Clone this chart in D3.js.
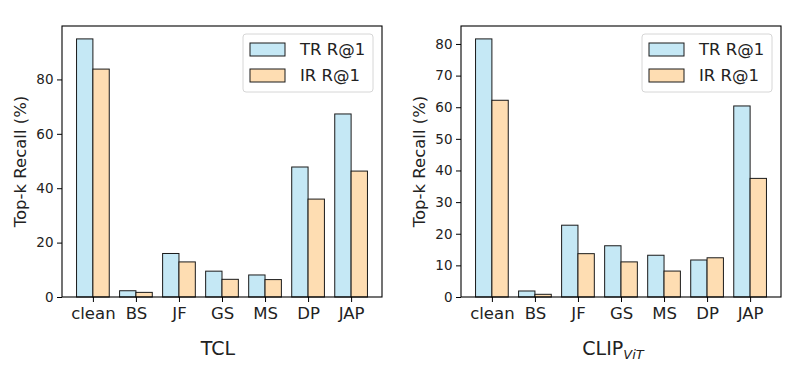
<!DOCTYPE html>
<html>
<head>
<meta charset="utf-8">
<script src="https://cdn.jsdelivr.net/npm/d3@7/dist/d3.min.js"></script>
<style>
  html, body { margin: 0; padding: 0; background: #fff; }
  svg { display: block; }
  text { font-family: "DejaVu Sans", sans-serif; fill: #222; }
</style>
</head>
<body>
<svg id="chart" width="811" height="387"></svg>
<script>
// ---- data ----
const categories = ["clean", "BS", "JF", "GS", "MS", "DP", "JAP"];
const seriesNames = ["TR R@1", "IR R@1"];
const tclTR = [94.9, 2.3, 16.0, 9.5, 8.1, 47.8, 67.3];
const tclIR = [83.8, 1.7, 12.9, 6.5, 6.4, 36.0, 46.3];
const clipTR = [81.6, 1.9, 22.7, 16.2, 13.2, 11.7, 60.4];
const clipIR = [62.2, 0.85, 13.7, 11.1, 8.2, 12.4, 37.5];
const tclTicks = [0, 20, 40, 60, 80];
const clipTicks = [0, 10, 20, 30, 40, 50, 60, 70, 80];
const yLabel = "Top-k Recall (%)";

const colors = ["#C5E8F5", "#FEDDB2"];
const edge = "#1a1a1a";

const svg = d3.select("#chart");

function panel(opts) {
  const { left, top, width, height, tr, ir, ticks, title, sub } = opts;
  const g = svg.append("g").attr("transform", `translate(${left},${top})`);
  const bw = 0.38;
  const n = categories.length;
  const lo = -bw, hi = (n - 1) + bw;
  const pad = (hi - lo) * 0.05;
  const x = d3.scaleLinear().domain([lo - pad, hi + pad]).range([0, width]);
  const ymax = d3.max(tr.concat(ir)) * 1.05;
  const y = d3.scaleLinear().domain([0, ymax]).range([height, 0]);

  const series = [tr, ir];
  series.forEach((vals, si) => {
    g.append("g").selectAll("rect").data(vals).join("rect")
      .attr("x", (d, i) => x(i - bw + si * bw))
      .attr("width", x(bw) - x(0))
      .attr("y", d => y(d))
      .attr("height", d => y(0) - y(d))
      .attr("fill", colors[si])
      .attr("stroke", edge)
      .attr("stroke-width", 1);
  });

  // frame
  g.append("rect").attr("x", 0).attr("y", 0).attr("width", width).attr("height", height)
    .attr("fill", "none").attr("stroke", "#000").attr("stroke-width", 1.1);

  // y axis
  const ya = d3.axisLeft(y).tickValues(ticks).tickSize(5).tickPadding(3.5).tickFormat(d3.format("d"));
  const yg = g.append("g").call(ya);
  yg.select(".domain").remove();
  yg.selectAll("text").style("font-size", "13.5px").attr("fill", "#333");
  yg.selectAll("line").attr("stroke", "#000");

  // x axis
  const xa = d3.axisBottom(x).tickValues(d3.range(n)).tickSize(5).tickPadding(5)
    .tickFormat(i => categories[i]);
  const xg = g.append("g").attr("transform", `translate(0,${height})`).call(xa);
  xg.select(".domain").remove();
  xg.selectAll("text").style("font-size", "16.5px").attr("fill", "#333");
  xg.selectAll("line").attr("stroke", "#000");

  // y label
  g.append("text")
    .attr("transform", `translate(${opts.ylabX},${height / 2}) rotate(-90)`)
    .attr("text-anchor", "middle")
    .style("font-size", "16.5px").attr("fill", "#333")
    .text(yLabel);

  // title / xlabel
  const t = g.append("text")
    .attr("x", width / 2 + opts.titleDx).attr("y", opts.titleY)
    .attr("text-anchor", "middle")
    .style("font-size", "19px").attr("fill", "#222");
  t.append("tspan").text(title);
  if (sub) {
    t.append("tspan").attr("dy", 4).style("font-size", "13px").style("font-style", "italic").text(sub);
  }

  // legend
  const lg = g.append("g").attr("transform", `translate(${width - 139},${8})`);
  lg.append("rect").attr("x", 0).attr("y", 0).attr("width", 130).attr("height", 58)
    .attr("rx", 3).attr("fill", "#fff").attr("fill-opacity", 0.8)
    .attr("stroke", "#d6d6d6").attr("stroke-width", 1);
  seriesNames.forEach((s, i) => {
    lg.append("rect").attr("x", 7).attr("y", 9 + i * 26).attr("width", 35).attr("height", 13)
      .attr("fill", colors[i]).attr("stroke", edge).attr("stroke-width", 1);
    lg.append("text").attr("x", 57).attr("y", 15.5 + i * 26).attr("dy", "0.36em")
      .style("font-size", "16.5px").attr("fill", "#333").text(s);
  });
}

panel({ left: 62, top: 26, width: 320, height: 271, tr: tclTR, ir: tclIR, ticks: tclTicks,
        title: "TCL", sub: null, ylabX: -36, titleY: 329, titleDx: -4 });
panel({ left: 461, top: 26, width: 320, height: 271, tr: clipTR, ir: clipIR, ticks: clipTicks,
        title: "CLIP", sub: "ViT", ylabX: -36, titleY: 329, titleDx: -8 });
</script>
</body>
</html>
